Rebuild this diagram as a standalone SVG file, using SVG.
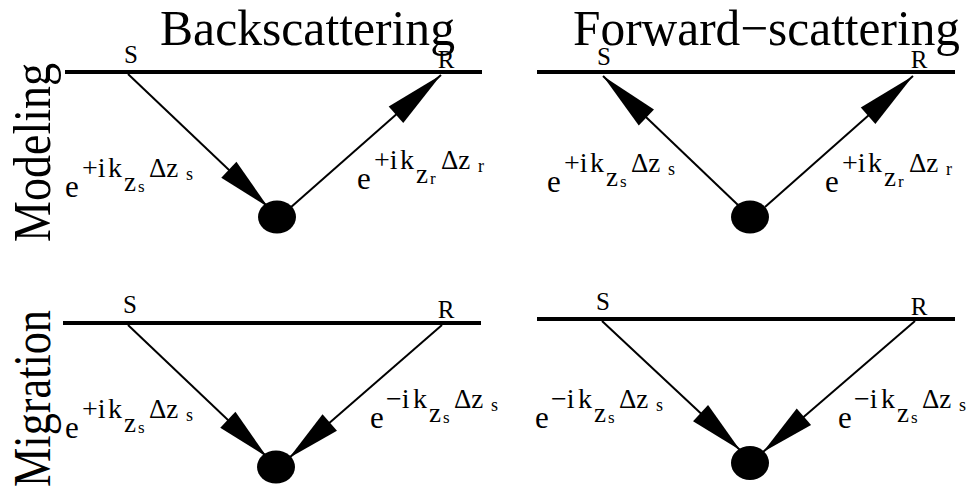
<svg xmlns="http://www.w3.org/2000/svg" width="974" height="489" viewBox="0 0 974 489">
<style>
.t{font-family:"Liberation Serif","Times New Roman",serif;fill:#000}
.surf{stroke:#000;stroke-width:4;fill:none}
.ray{stroke:#000;stroke-width:2;fill:none}
.up{marker-end:url(#ahUp)}
.dn{marker-end:url(#ahDn)}
.sc{fill:#000}
.sr{font-size:25px}
</style>
<defs>
<marker id="ahUp" markerUnits="userSpaceOnUse" markerWidth="62" markerHeight="24" refX="60" refY="11" orient="auto" overflow="visible"><path d="M0,0 L60,11 L0,22 z" fill="#000"/></marker>
<marker id="ahDn" markerUnits="userSpaceOnUse" markerWidth="56" markerHeight="24" refX="54" refY="11" orient="auto" overflow="visible"><path d="M0,0 L54,11 L0,22 z" fill="#000"/></marker>
</defs>
<rect width="974" height="489" fill="#fff"/>

<g id="titles">
<text class="t" x="160" y="45" font-size="51" textLength="295" lengthAdjust="spacingAndGlyphs">Backscattering</text>
<text class="t" x="573" y="45" font-size="50" textLength="387" lengthAdjust="spacingAndGlyphs">Forward−scattering</text>
<text class="t" transform="translate(50,242) rotate(-90)" font-size="52" textLength="179" lengthAdjust="spacingAndGlyphs">Modeling</text>
<text class="t" transform="translate(50,487) rotate(-90)" font-size="52" textLength="177" lengthAdjust="spacingAndGlyphs">Migration</text>
</g>

<g id="surfaces">
<line class="surf" x1="65" y1="72" x2="482" y2="72"/>
<line class="surf" x1="537" y1="72" x2="955" y2="72"/>
<line class="surf" x1="63" y1="323" x2="481" y2="323"/>
<line class="surf" x1="537" y1="319" x2="955" y2="319"/>
</g>

<g id="connectors">
<line class="ray dn" x1="128" y1="74" x2="268" y2="207"/>
<line class="ray up" x1="290" y1="208" x2="441" y2="75"/>
<line class="ray up" x1="738" y1="205" x2="603" y2="76"/>
<line class="ray up" x1="765" y1="207" x2="913" y2="76"/>
<line class="ray dn" x1="128" y1="325" x2="267" y2="457"/>
<line class="ray dn" x1="442" y1="325" x2="289" y2="458"/>
<line class="ray dn" x1="602" y1="321" x2="740" y2="450"/>
<line class="ray dn" x1="915" y1="321" x2="763" y2="452"/>
</g>

<g id="scatterer-tl"><ellipse class="sc" cx="277" cy="217" rx="19" ry="16.5"/></g>
<g id="scatterer-tr"><ellipse class="sc" cx="750" cy="217" rx="19" ry="16.5"/></g>
<g id="scatterer-bl"><ellipse class="sc" cx="276" cy="467" rx="19" ry="16.5"/></g>
<g id="scatterer-br"><ellipse class="sc" cx="750" cy="463" rx="19" ry="17"/></g>

<g id="sr-labels" text-anchor="middle">
<text class="t sr" x="131" y="63">S</text>
<text class="t sr" x="446" y="68">R</text>
<text class="t sr" x="604" y="65">S</text>
<text class="t sr" x="919" y="68">R</text>
<text class="t sr" x="130" y="313">S</text>
<text class="t sr" x="446" y="318">R</text>
<text class="t sr" x="603" y="310">S</text>
<text class="t sr" x="919" y="315">R</text>
</g>

<g id="label-tl-s" transform="translate(65,197)">
<text class="t"><tspan x="0" y="0" font-size="31">e</tspan><tspan x="17" y="-20" font-size="28">+i</tspan><tspan x="43" y="-20" font-size="28">k</tspan><tspan x="59" y="-6" font-size="27">z</tspan><tspan x="73" y="-5" font-size="17">s</tspan><tspan x="84" y="-20" font-size="27">Δz</tspan><tspan x="121" y="-17" font-size="18">s</tspan></text>
</g>
<g id="label-tl-r" transform="translate(357,189)">
<text class="t"><tspan x="0" y="0" font-size="31">e</tspan><tspan x="17" y="-20" font-size="28">+i</tspan><tspan x="43" y="-20" font-size="28">k</tspan><tspan x="59" y="-6" font-size="27">z</tspan><tspan x="73" y="-5" font-size="17">r</tspan><tspan x="84" y="-20" font-size="27">Δz</tspan><tspan x="121" y="-17" font-size="18">r</tspan></text>
</g>
<g id="label-tr-s" transform="translate(547,192)">
<text class="t"><tspan x="0" y="0" font-size="31">e</tspan><tspan x="17" y="-20" font-size="28">+i</tspan><tspan x="43" y="-20" font-size="28">k</tspan><tspan x="59" y="-6" font-size="27">z</tspan><tspan x="73" y="-5" font-size="17">s</tspan><tspan x="84" y="-20" font-size="27">Δz</tspan><tspan x="121" y="-17" font-size="18">s</tspan></text>
</g>
<g id="label-tr-r" transform="translate(825,192)">
<text class="t"><tspan x="0" y="0" font-size="31">e</tspan><tspan x="17" y="-20" font-size="28">+i</tspan><tspan x="43" y="-20" font-size="28">k</tspan><tspan x="59" y="-6" font-size="27">z</tspan><tspan x="73" y="-5" font-size="17">r</tspan><tspan x="84" y="-20" font-size="27">Δz</tspan><tspan x="121" y="-17" font-size="18">r</tspan></text>
</g>
<g id="label-bl-s" transform="translate(65,438)">
<text class="t"><tspan x="0" y="0" font-size="31">e</tspan><tspan x="17" y="-20" font-size="28">+i</tspan><tspan x="43" y="-20" font-size="28">k</tspan><tspan x="59" y="-6" font-size="27">z</tspan><tspan x="73" y="-5" font-size="17">s</tspan><tspan x="84" y="-20" font-size="27">Δz</tspan><tspan x="121" y="-17" font-size="18">s</tspan></text>
</g>
<g id="label-bl-r" transform="translate(370,428)">
<text class="t"><tspan x="0" y="0" font-size="31">e</tspan><tspan x="16" y="-20" font-size="28">−i</tspan><tspan x="43" y="-20" font-size="28">k</tspan><tspan x="59" y="-6" font-size="27">z</tspan><tspan x="73" y="-5" font-size="17">s</tspan><tspan x="84" y="-20" font-size="27">Δz</tspan><tspan x="121" y="-17" font-size="18">s</tspan></text>
</g>
<g id="label-br-s" transform="translate(535,428)">
<text class="t"><tspan x="0" y="0" font-size="31">e</tspan><tspan x="16" y="-20" font-size="28">−i</tspan><tspan x="43" y="-20" font-size="28">k</tspan><tspan x="59" y="-6" font-size="27">z</tspan><tspan x="73" y="-5" font-size="17">s</tspan><tspan x="84" y="-20" font-size="27">Δz</tspan><tspan x="121" y="-17" font-size="18">s</tspan></text>
</g>
<g id="label-br-r" transform="translate(838,428)">
<text class="t"><tspan x="0" y="0" font-size="31">e</tspan><tspan x="16" y="-20" font-size="28">−i</tspan><tspan x="43" y="-20" font-size="28">k</tspan><tspan x="59" y="-6" font-size="27">z</tspan><tspan x="73" y="-5" font-size="17">s</tspan><tspan x="84" y="-20" font-size="27">Δz</tspan><tspan x="121" y="-17" font-size="18">s</tspan></text>
</g>
</svg>
